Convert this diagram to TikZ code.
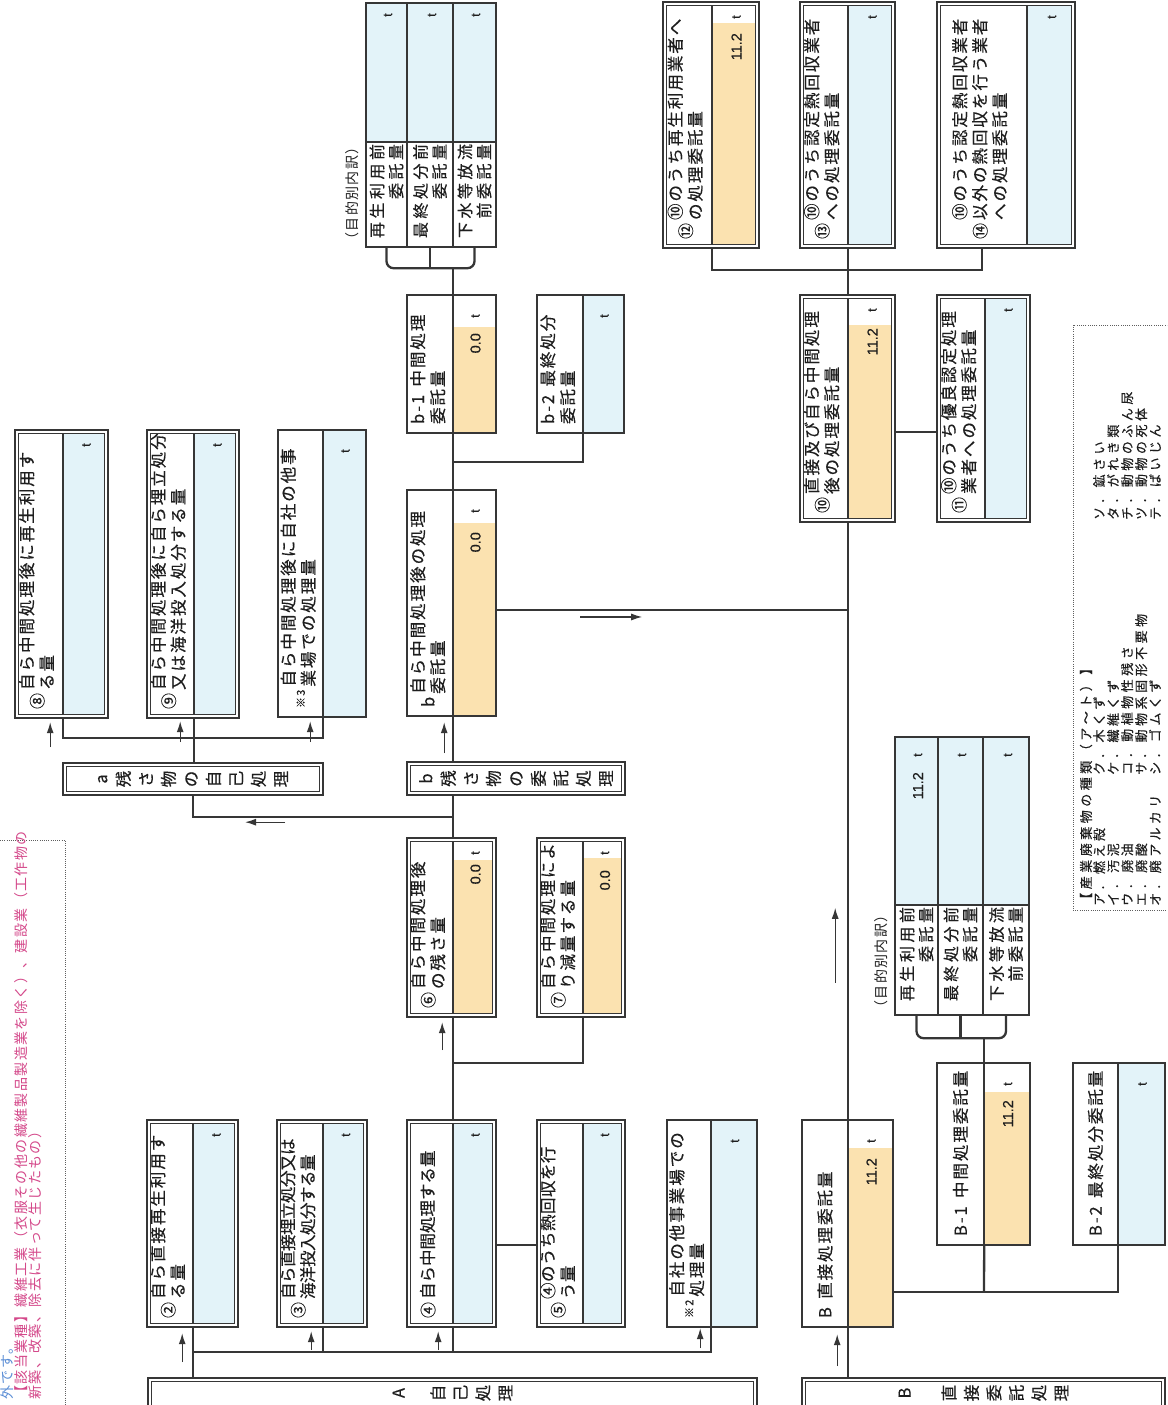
\documentclass[tikz,border=0pt]{standalone}
\usepackage{fontspec}
\setmainfont{Noto Sans CJK JP}
\newfontfamily\jp{Noto Sans CJK JP}[LetterSpace=12,FakeBold=0.4]
\newfontfamily\jpw{Noto Sans CJK JP}[LetterSpace=22,FakeBold=0.4]
\newfontfamily\jph{Noto Sans CJK JP}[LetterSpace=10]
\newfontfamily\jpl{Noto Sans CJK JP}[LetterSpace=27,FakeBold=0.3]
\newfontfamily\lat{Liberation Sans}[FakeBold=0.3]
\usetikzlibrary{arrows.meta,calc}
\definecolor{ln}{HTML}{363636}
\definecolor{tx}{HTML}{1E1E1E}
\definecolor{lb}{HTML}{E3F3F9}
\definecolor{yl}{HTML}{FBE2B0}
\definecolor{pk}{HTML}{D4488A}
\definecolor{bt}{HTML}{5B8ED6}
\newcommand\padd{9}
\def\toff{15}
\newcommand\lbl[2]{\begin{tabular}{@{}c@{\hspace{3pt}}l@{}}#1&\begin{tabular}{@{}l@{}}#2\end{tabular}\end{tabular}}
\newcommand\tl[1]{\begin{tabular}{@{}l@{}}#1\end{tabular}}
\newcommand\mkc[1]{{\fontsize{16}{16}\selectfont #1}}
\newcommand\mks[1]{{\fontsize{11}{11}\selectfont #1}}
\newcommand\cells[9]{%
  \pgfmathsetmacro\bxcw{#6-#5}%
  \pgfmathsetmacro\bxtw{#6-#5-2*\padd}%
  \pgfmathsetmacro\bxhl{#3-#2}%
  \pgfmathsetmacro\bxhv{#4-#3}%
  \node[lab, minimum width=\bxcw pt, minimum height=\bxhl pt, text width=\bxtw pt] (#1) at ({(#2+#3)/2},{(#5+#6)/2}) {#7};
  \node[val, minimum width=\bxcw pt, minimum height=\bxhv pt] (#1v) at ({(#3+#4)/2},{(#5+#6)/2}) {};
  \node[tu] (#1t) at ({(#3+#4)/2+1},{#5+\toff}) {t};
  \node[nu] (#1n) at ({(#3+#4)/2+1},{#5+#9}) {#8};
}
\newcommand\sgl[5]{\draw[bd] (#1,#3) rectangle (#2,#4); \draw[bd] (#5,#3) -- (#5,#4);}
\newcommand\dbl[5]{\draw[bd] (#1,#3) rectangle (#2,#4); \draw[bd] ({#1+3.5},{#3+3.5}) rectangle ({#2-3.5},{#4-3.5}); \draw[bd] (#5,{#3+3.5}) -- (#5,{#4-3.5});}
\newcommand\dbx[4]{\draw[bd] (#1,#3) rectangle (#2,#4); \draw[bd] ({#1+3.5},{#3+3.5}) rectangle ({#2-3.5},{#4-3.5});}
\begin{document}
\begin{tikzpicture}[x=1pt,y=1pt,
  bd/.style={draw=ln, line width=1.4pt},
  cn/.style={draw=ln, line width=2.3pt},
  fl/.style={draw=ln, line width=1.3pt, -{Latex[length=11pt,width=7pt]}},
  dt/.style={draw=ln!80, line width=0.8pt, dash pattern=on 1pt off 1.2pt},
  lab/.style={inner sep=0pt, align=left, text=tx, font=\jp\fontsize{16.5}{20}\selectfont},
  tlab/.style={inner sep=0pt, align=right, text=tx, font=\jpw\fontsize{16}{19}\selectfont},
  val/.style={inner sep=0pt},
  tu/.style={inner sep=0pt, text=tx, font=\lat\fontsize{13}{13}\selectfont},
  nu/.style={inner sep=0pt, anchor=east, text=tx, font=\lat\fontsize{14.5}{14.5}\selectfont},
  vt/.style={inner sep=0pt, align=center, text=tx, font=\jp\fontsize{16.5}{22.5}\selectfont},
  hd/.style={inner sep=0pt, text=tx, font=\jph\fontsize{14}{16}\selectfont},
  lg/.style={inner sep=0pt, text=tx, font=\jpl\fontsize{13}{14}\selectfont},
]
\useasboundingbox (0,0) rectangle (1167,1405);
\fill[white] (0,0) rectangle (1167,1405);
\clip (0,0) rectangle (1167,1405);
\begin{scope}[shift={(0pt,1405pt)}, rotate=90, transform shape, x={(0pt,-1pt)}, y={(-1pt,0pt)}]
% ---------- value fills
\fill[lb] (63,433.5) rectangle (104.5,714.5);
\fill[lb] (194,433.5) rectangle (235.5,714.5);
\fill[lb] (323,430) rectangle (366,717);
\fill[yl] (453,523) rectangle (496,716);
\fill[yl] (453,327) rectangle (496,433);
\fill[lb] (583,295) rectangle (624,433);
\fill[lb] (366,3) rectangle (496,142);
\fill[yl] (712,23) rectangle (755.5,244.5);
\fill[lb] (848,5.5) rectangle (891.5,244.5);
\fill[lb] (1027,5.5) rectangle (1071.5,244.5);
\fill[yl] (848,325) rectangle (891.5,518.5);
\fill[lb] (985,298.5) rectangle (1026.5,518.5);
\fill[yl] (453,860) rectangle (492.5,1013.5);
\fill[yl] (583,858) rectangle (621.5,1013.5);
\fill[lb] (193,1123.5) rectangle (234.5,1323.5);
\fill[lb] (323,1123.5) rectangle (363.5,1323.5);
\fill[lb] (453,1123.5) rectangle (492.5,1323.5);
\fill[lb] (583,1123.5) rectangle (621.5,1323.5);
\fill[lb] (711,1120) rectangle (757,1327);
\fill[yl] (848,1148) rectangle (893,1327);
\fill[yl] (984,1092) rectangle (1030,1245);
\fill[lb] (1118,1063) rectangle (1165,1245);
\fill[lb] (895,737) rectangle (1029,905);
% ---------- boxes (double border)
\def\toff{15}
\cells{n8}{15}{63}{108}{430}{718}{\lbl{\mkc{⑧}}{自ら中間処理後に再生利用す\\る量}}{}{30}
\cells{n9}{147}{194}{239}{430}{718}{\lbl{\mkc{⑨}}{自ら中間処理後に自ら埋立処分\\又は海洋投入処分する量}}{}{30}
\cells{n12}{663}{712}{759}{2}{248}{\lbl{\mkc{⑫}}{⑩のうち再生利用業者へ\\の処理委託量}}{11.2}{31}
\cells{n13}{800}{848}{895}{2}{248}{\lbl{\mkc{⑬}}{⑩のうち認定熱回収業者\\への処理委託量}}{}{30}
\cells{n14}{937}{1027}{1075}{2}{248}{\lbl{\mkc{⑭}}{⑩のうち認定熱回収業者\\以外の熱回収を行う業者\\への処理委託量}}{}{30}
\cells{n10}{800}{848}{895}{295}{522}{\lbl{\mkc{⑩}}{直接及び自ら中間処理\\後の処理委託量}}{11.2}{33}
\cells{n11}{937}{985}{1030}{295}{522}{\lbl{\mkc{⑪}}{⑩のうち優良認定処理\\業者への処理委託量}}{}{30}
\cells{n6}{407}{453}{496}{838}{1017}{\lbl{\mkc{⑥}}{自ら中間処理後\\の残さ量}}{0.0}{26}
\cells{n7}{537}{583}{625}{838}{1017}{\lbl{\mkc{⑦}}{自ら中間処理によ\\り減量する量}}{0.0}{32}
\cells{n2}{147}{193}{238}{1120}{1327}{\lbl{\mkc{②}}{自ら直接再生利用す\\る量}}{}{30}
\cells{n3}{277}{323}{367}{1120}{1327}{{\addfontfeatures{LetterSpace=-3}\lbl{\mkc{③}}{自ら直接埋立処分又は\\海洋投入処分する量}}}{}{30}
\cells{n4}{407}{453}{496}{1120}{1327}{{\addfontfeatures{LetterSpace=0}\lbl{\mkc{④}}{自ら中間処理する量}}}{}{30}
\cells{n5}{537}{583}{625}{1120}{1327}{{\addfontfeatures{LetterSpace=3}\lbl{\mkc{⑤}}{④のうち熱回収を行\\う量}}}{}{30}
% ---------- boxes (single border)
\def\toff{21}
\cells{n3s}{278}{323}{366}{430}{717}{\lbl{\mks{※3}}{自ら中間処理後に自社の他事\\業場での処理量}}{}{30}
\cells{nbb}{407}{453}{496}{490}{716}{\lbl{b}{自ら中間処理後の処理\\委託量}}{0.0}{42}
\cells{nb1}{407}{453}{496}{295}{433}{\tl{b-1\enspace 中間処理\\委託量}}{0.0}{38}
\cells{nb2}{537}{583}{624}{295}{433}{\tl{b-2\enspace 最終処分\\委託量}}{}{30}
\cells{n2s}{667}{711}{757}{1120}{1327}{\lbl{\mks{※2}}{自社の他事業場での\\処理量}}{}{30}
\cells{nB}{802}{848}{893}{1120}{1327}{B\enspace 直接処理委託量}{11.2}{38}
\cells{nB1}{937}{984}{1030}{1063}{1245}{B-1\enspace 中間処理委託量}{11.2}{37}
\cells{nB2}{1073}{1118}{1165}{1063}{1245}{B-2\enspace 最終処分委託量}{}{30}
% ---------- borders
\dbl{15}{108}{430}{718}{63}
\dbl{147}{239}{430}{718}{194}
\dbl{663}{759}{2}{248}{712}
\dbl{800}{895}{2}{248}{848}
\dbl{937}{1075}{2}{248}{1027}
\dbl{800}{895}{295}{522}{848}
\dbl{937}{1030}{295}{522}{985}
\dbl{407}{496}{838}{1017}{453}
\dbl{537}{625}{838}{1017}{583}
\dbl{147}{238}{1120}{1327}{193}
\dbl{277}{367}{1120}{1327}{323}
\dbl{407}{496}{1120}{1327}{453}
\dbl{537}{625}{1120}{1327}{583}
\sgl{278}{366}{430}{717}{323}
\sgl{407}{496}{490}{716}{453}
\sgl{407}{496}{295}{433}{453}
\sgl{537}{624}{295}{433}{583}
\sgl{667}{757}{1120}{1327}{711}
\sgl{802}{893}{1120}{1327}{848}
\sgl{937}{1030}{1063}{1245}{984}
\sgl{1073}{1165}{1063}{1245}{1118}
% ---------- upper breakdown table
\node[tlab, minimum width=105pt, minimum height=41pt, text width=101pt] (ut1) at (386.5,194.5) {再生利用前\\委託量};
\node[tlab, minimum width=105pt, minimum height=46pt, text width=101pt] (ut2) at (430,194.5) {最終処分前\\委託量};
\node[tlab, minimum width=105pt, minimum height=43pt, text width=101pt] (ut3) at (474.5,194.5) {下水等放流\\前委託量};
\node[val, minimum width=139pt, minimum height=41pt] (ut1v) at (386.5,72.5) {};
\node[val, minimum width=139pt, minimum height=46pt] (ut2v) at (430,72.5) {};
\node[val, minimum width=139pt, minimum height=43pt] (ut3v) at (474.5,72.5) {};
\node[tu] (ut1t) at (388,15) {t};
\node[tu] (ut2t) at (432,15) {t};
\node[tu] (ut3t) at (476,15) {t};
\draw[bd] (366,3) rectangle (496,247);
\draw[bd] (407,3) -- (407,247);
\draw[bd] (453,3) -- (453,247);
\draw[bd] (366,142) -- (496,142);
\node[hd, anchor=west] (ut0) at (352,247) {（目的別内訳）};
% ---------- lower breakdown table
\node[tlab, minimum width=110pt, minimum height=43pt, text width=106pt] (lt1) at (916.5,960) {再生利用前\\委託量};
\node[tlab, minimum width=110pt, minimum height=45pt, text width=106pt] (lt2) at (960.5,960) {最終処分前\\委託量};
\node[tlab, minimum width=110pt, minimum height=46pt, text width=106pt] (lt3) at (1006,960) {下水等放流\\前委託量};
\node[val, minimum width=168pt, minimum height=43pt] (lt1v) at (916.5,821) {};
\node[val, minimum width=168pt, minimum height=45pt] (lt2v) at (960.5,821) {};
\node[val, minimum width=168pt, minimum height=46pt] (lt3v) at (1006,821) {};
\node[tu] (lt1t) at (918,755) {t};
\node[tu] (lt2t) at (962,755) {t};
\node[tu] (lt3t) at (1008,755) {t};
\node[nu] (lt1n) at (918,772) {11.2};
\draw[bd] (895,737) rectangle (1029,1015);
\draw[bd] (938,737) -- (938,1015);
\draw[bd] (983,737) -- (983,1015);
\draw[bd] (895,905) -- (1029,905);
\node[hd, anchor=west] (lt0) at (881,1015) {（目的別内訳）};
% ---------- vertical-text boxes
\dbx{63}{323}{763}{795}
\dbx{407}{625}{762}{795}
\dbx{148}{757}{1378}{1440}
\dbx{802}{1165}{1378}{1440}
\node[vt, minimum width=32pt, minimum height=260pt] (na) at (193,779) {a\\残\\さ\\物\\の\\自\\己\\処\\理};
\node[vt, minimum width=33pt, minimum height=218pt] (nbx) at (516,778.5) {b\\残\\さ\\物\\の\\委\\託\\処\\理};
\node[vt, minimum width=30pt, minimum height=609pt] (nA) at (452.5,1393) {A\\[17pt]自\\己\\処\\理};
\node[vt, minimum width=30pt, minimum height=363pt] (nBB) at (983.5,1393) {B\\[22pt]直\\接\\委\\託\\処\\理};
% ---------- connectors: a / b residue
\coordinate (ja) at (194,738);
\coordinate (jb) at (453,817);
\coordinate (j7) at (453,1063);
\coordinate (jb2) at (453,462);
\coordinate (jr) at (848,610);
\coordinate (j1011) at (916,432);
\coordinate (jB) at (984,1292);
\coordinate (jA) at (193,1352);
\coordinate (j45) at (496,1245);
\draw[cn] (n8.south west) -| (ja) |- (n3s.south west);
\draw[cn] (n9.south west) -- (n9.south west -| na.east);
\draw[cn] (na.west) -| (jb);
\draw[cn] (nbb.south west) -- (nbb.south west -| nbx.east);
\draw[cn] (nbb.south west -| nbx.west) -- (n6.south east);
\draw[cn] (n6.south west) -- (n4.south east);
\draw[cn] (j7) |- (n7.south west);
\draw[cn] (nbb.south east) -- (nb1.south west);
\draw[cn] (jb2) |- (nb2.south west);
\draw[cn] (nb1.south east) -- ++(0,-27);
\draw[cn, rounded corners=7pt] (ut1.west) -- ++(0,21) |- (ut3.west);
\draw[cn] (ut2.west) -- ++(0,21);
% ---------- connectors: B side
\draw[cn] (nbbv.south -| jr) -- (jr);
\draw[cn] (n10.south west) -- (nB.south east);
\draw[cn] (nB.south west) -- (nB.south west -| nBB.east);
\draw[cn] (n10.south east) -- (n13.south west);
\draw[cn] (n12.south west) -- ++(0,22) |- (n14.west);
\draw[cn] (n10v.south -| j1011) -- (n11.north -| j1011);
\draw[cn] (nB1.south east) -- ++(0,-25);
\draw[cn, rounded corners=7pt] (lt1.west) -- ++(0,23) |- (lt3.west);
\draw[cn] (lt2.west) -- ++(0,23);
\draw[cn] (nB1.south west) -- (jB);
\draw[cn] (nBv.south -| jB) |- (nB2.south west);
% ---------- connectors: A side
\draw[cn] (n2.south west) -- (n2.south west -| nA.east);
\draw[cn] (jA) |- (n2s.south west);
\draw[cn] (n3.south west) -- (n3.south west -| jA);
\draw[cn] (n4.south west) -- (n4.south west -| jA);
\draw[cn] (n4v.south -| j45) -- (n5.north -| j45);
% ---------- flow arrows
\draw[fl] ($(n8.south west)+(-13,29)$) -- ++(0,-25);
\draw[fl] ($(n9.south west)+(-14,24)$) -- ++(0,-21);
\draw[fl] ($(n3s.south west)+(-13,25)$) -- ++(0,-21);
\draw[fl] ($(na.west)+(92,27)$) -- ++(-40,0);
\draw[fl] ($(nbb.south west)+(-9,37)$) -- ++(0,-31);
\draw[fl] ($(nbbv.south)+(84,14)$) -- ++(62,0);
\draw[fl] ($(n6.south west)+(-11,33)$) -- ++(0,-28);
\draw[fl] ($(n2.south west)+(-11,35)$) -- ++(0,-29);
\draw[fl] ($(n3.south west)+(-12,23)$) -- ++(0,-19);
\draw[fl] ($(n4.south west)+(-15,23)$) -- ++(0,-19);
\draw[fl] ($(n2s.south west)+(-11,21)$) -- ++(0,-20);
\draw[fl] ($(nB.south west)+(-11,39)$) -- ++(0,-32);
\draw[fl] ($(nB.south east)+(-13,-137)$) -- ++(0,-75);
% ---------- header note (dotted frame)
\draw[dt] (0,840) -- (65,840) -- (65,1410);
\node[hd, text=bt, anchor=west] (h1) at (7,1400) {外です。};
\node[hd, text=pk, anchor=west] (h2) at (21,1400) {【該当業種】繊維工業（衣服その他の繊維製品製造業を除く）、建設業（工作物の};
\node[hd, text=pk, anchor=west] (h3) at (35,1400) {新築、改築、除去に伴って生じたもの）};
% ---------- legend
\draw[dt] (1170,325) -- (1073,325) -- (1073,910) -- (1170,910);
\node[lg, anchor=west] (lg0) at (1086,906) {【産業廃棄物の種類（ア～ト）】};
\node[lg, anchor=north west, align=left] (lg1) at (1093,906) {ア．燃え殻\\イ．汚泥\\ウ．廃油\\エ．廃酸\\オ．廃アルカリ};
\node[lg, anchor=north west, align=left] (lg2) at (1093,775) {ク．木くず\\ケ．繊維くず\\コ．動植物性残さ\\サ．動物系固形不要物\\シ．ゴムくず};
\node[lg, anchor=north west, align=left] (lg3) at (1093,520) {ソ．鉱さい\\タ．がれき類\\チ．動物のふん尿\\ツ．動物の死体\\テ．ばいじん};
\end{scope}
\end{tikzpicture}
\end{document}
